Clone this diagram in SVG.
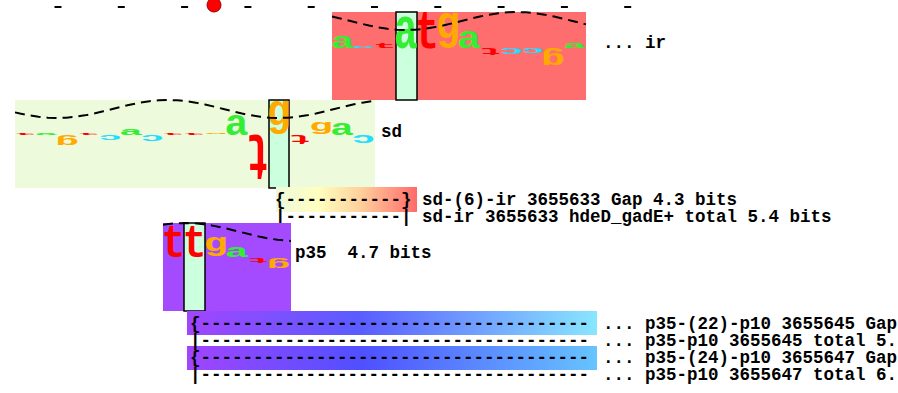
<svg xmlns="http://www.w3.org/2000/svg" width="898" height="393" viewBox="0 0 898 393">
<style>
.L{font-family:"Liberation Mono",monospace;font-weight:bold;font-size:40px;text-anchor:middle}
.a{fill:#33EE33}.c{fill:#22DDFF}.g{fill:#FFAA00}.t{fill:#FF0000}
.txt{font-family:"Liberation Mono","Courier New",monospace;font-weight:bold;font-size:17.5px;fill:#000;white-space:pre}
.wave{fill:none;stroke:#000;stroke-width:2;stroke-dasharray:10 6}
.zero{fill:#CCFFDD;stroke:#000;stroke-width:1.5}
.tick{stroke:#000;stroke-width:2}
</style>
<defs>
<linearGradient id="gsd" x1="0" x2="1" y1="0" y2="0">
<stop offset="0" stop-color="#EEF9DC"/><stop offset="0.3" stop-color="#FFFFBF"/><stop offset="0.6" stop-color="#FFD09C"/><stop offset="1" stop-color="#FF6A6A"/>
</linearGradient>
<linearGradient id="gp1" x1="0" x2="1" y1="0" y2="0">
<stop offset="0" stop-color="#A145FF"/><stop offset="0.42" stop-color="#5A5CFF"/><stop offset="1" stop-color="#88E6FF"/>
</linearGradient>
<linearGradient id="gp2" x1="0" x2="1" y1="0" y2="0">
<stop offset="0" stop-color="#A145FF"/><stop offset="0.43" stop-color="#4F50FF"/><stop offset="1" stop-color="#66C4FF"/>
</linearGradient>
</defs>

<g id="ruler">
<line class="tick" x1="54.5" y1="7" x2="61.5" y2="7"/>
<line class="tick" x1="117.8" y1="7" x2="124.8" y2="7"/>
<line class="tick" x1="181.1" y1="7" x2="188.1" y2="7"/>
<line class="tick" x1="244.4" y1="7" x2="251.4" y2="7"/>
<line class="tick" x1="307.7" y1="7" x2="314.7" y2="7"/>
<line class="tick" x1="371" y1="7" x2="378" y2="7"/>
<line class="tick" x1="434.3" y1="7" x2="441.3" y2="7"/>
<line class="tick" x1="497.6" y1="7" x2="504.6" y2="7"/>
<line class="tick" x1="560.9" y1="7" x2="567.9" y2="7"/>
<line class="tick" x1="624.2" y1="7" x2="631.2" y2="7"/>
<circle cx="214" cy="5" r="7" fill="#FF0000" stroke="#990000" stroke-width="1"/>
</g>

<g id="ir">
<rect x="332" y="12" width="254" height="88" fill="#FF6E6E"/>
<rect class="zero" x="396" y="12" width="21" height="88"/>
<text class="L a" transform="translate(342.5,47.5) scale(1,0.545)">a</text>
<text class="L c" transform="translate(363.6,47.5) scale(1,0.091)">c</text>
<text class="L t" transform="translate(384.7,47.5) scale(1,0.192)">t</text>
<text class="L a" transform="translate(405.8,47.5) scale(1,1.5)">a</text>
<text class="L t" transform="translate(427,47.5) scale(1,1.346)">t</text>
<text class="L g" transform="translate(448,47.5) scale(1,1.133)" y="-8.8">g</text>
<text class="L a" transform="translate(469,47.5) scale(1,0.773)">a</text>
<text class="L t" transform="translate(490.2,48) scale(-1,-0.269)">t</text>
<text class="L c" transform="translate(511.3,48) scale(-1,-0.273)">c</text>
<text class="L c" transform="translate(532.4,48) scale(-1,-0.227)">c</text>
<text class="L g" transform="translate(553.5,48) scale(-1,-0.567)" y="-8.8">g</text>
<text class="L a" transform="translate(574.6,47.5) scale(1,0.227)">a</text>
<polyline class="wave" points="332,16.5 341.25,18.67 350.5,21 359.75,23.33 369,25.5 378.25,27.36 387.5,28.79 396.75,29.69 406,30 415.25,29.69 424.5,28.79 433.75,27.36 443,25.5 452.25,23.33 461.5,21 470.75,18.67 480,16.5 489.25,14.64 498.5,13.21 507.75,12.31 517,12 526.25,12.31 535.5,13.21 544.75,14.64 554,16.5 563.25,18.67 572.5,21 581.75,23.33 586,24.36"/>
<text class="txt" x="603" y="48">... ir</text>
</g>

<g id="sd">
<rect x="15" y="100" width="360" height="88" fill="#EEFADC"/>
<rect class="zero" x="269" y="100" width="20" height="88"/>
<text class="L t" transform="translate(25.5,134.5) scale(1,0.077)">t</text>
<text class="L a" transform="translate(46.6,134.5) scale(1,0.091)">a</text>
<text class="L g" transform="translate(67.7,135) scale(-1,-0.333)" y="-8.8">g</text>
<text class="L t" transform="translate(88.8,134.5) scale(1,0.077)">t</text>
<text class="L c" transform="translate(110,135) scale(-1,-0.227)">c</text>
<text class="L a" transform="translate(131,134.5) scale(1,0.273)">a</text>
<text class="L c" transform="translate(152.1,135) scale(-1,-0.273)">c</text>
<text class="L t" transform="translate(173.2,134.5) scale(1,0.077)">t</text>
<text class="L t" transform="translate(194.3,134.5) scale(1,0.077)">t</text>
<text class="L g" transform="translate(215.4,134.5) scale(1,0.05)" y="-8.8">g</text>
<text class="L a" transform="translate(236.5,134.5) scale(1,0.909)">a</text>
<text class="L t" transform="translate(257.6,135) scale(-1,-1.654)">t</text>
<text class="L g" transform="translate(278.7,134.5) scale(1,1.1)" y="-8.8">g</text>
<text class="L t" transform="translate(299.8,135) scale(-1,-0.308)">t</text>
<text class="L g" transform="translate(320.9,134.5) scale(1,0.433)" y="-8.8">g</text>
<text class="L a" transform="translate(342,134.5) scale(1,0.545)">a</text>
<text class="L c" transform="translate(363.2,135) scale(-1,-0.364)">c</text>
<polyline class="wave" points="15,112.36 20,113.5 29.25,115.36 38.5,116.79 47.75,117.69 57,118 66.25,117.69 75.5,116.79 84.75,115.36 94,113.5 103.25,111.33 112.5,109 121.75,106.67 131,104.5 140.25,102.64 149.5,101.21 158.75,100.31 168,100 177.25,100.31 186.5,101.21 195.75,102.64 205,104.5 214.25,106.67 223.5,109 232.75,111.33 242,113.5 251.25,115.36 260.5,116.79 269.75,117.69 279,118 288.25,117.69 297.5,116.79 306.75,115.36 316,113.5 325.25,111.33 334.5,109 343.75,106.67 353,104.5 362.25,102.64 371.5,101.21 375,100.8"/>
<text class="txt" x="381" y="137">sd</text>
</g>

<g id="sd-ir">
<rect x="276" y="187" width="141" height="25" fill="url(#gsd)"/>
<text class="txt" x="275" y="205">{-----------}</text>
<text class="txt" x="275" y="222">|-----------|</text>
<text class="txt" x="422" y="205">sd-(6)-ir 3655633 Gap 4.3 bits</text>
<text class="txt" x="422" y="222">sd-ir 3655633 hdeD_gadE+ total 5.4 bits</text>
</g>

<g id="p35">
<rect x="163" y="223" width="128" height="88" fill="#A54BFF"/>
<rect class="zero" x="184" y="223" width="21" height="88"/>
<text class="L t" transform="translate(173.5,257) scale(1,1.154)">t</text>
<text class="L t" transform="translate(194.6,257) scale(1,1.154)">t</text>
<text class="L g" transform="translate(215.7,257) scale(1,0.667)" y="-8.8">g</text>
<text class="L a" transform="translate(236.8,257) scale(1,0.455)">a</text>
<text class="L t" transform="translate(258,258) scale(-1,-0.192)">t</text>
<text class="L g" transform="translate(279.1,258) scale(-1,-0.3)" y="-8.8">g</text>
<polyline class="wave" points="163,224.7 166.5,224.2 175.75,223.31 185,223 194.25,223.31 203.5,224.21 212.75,225.64 222,227.5 231.25,229.67 240.5,232 249.75,234.33 259,236.5 268.25,238.36 277.5,239.79 286.75,240.69 291,240.9"/>
<text class="txt" x="295" y="258">p35  4.7 bits</text>
</g>

<g id="p35-p10">
<rect x="187" y="311" width="410" height="24" fill="url(#gp1)"/>
<rect x="187" y="346" width="410" height="24" fill="url(#gp2)"/>
<text class="txt" x="190" y="329">{-------------------------------------</text>
<text class="txt" x="190" y="346">|-------------------------------------</text>
<text class="txt" x="190" y="363">{-------------------------------------</text>
<text class="txt" x="190" y="380">|-------------------------------------</text>
<text class="txt" x="603" y="329">... p35-(22)-p10 3655645 Gap</text>
<text class="txt" x="603" y="346">... p35-p10 3655645 total 5.</text>
<text class="txt" x="603" y="363">... p35-(24)-p10 3655647 Gap</text>
<text class="txt" x="603" y="380">... p35-p10 3655647 total 6.</text>
</g>
</svg>
